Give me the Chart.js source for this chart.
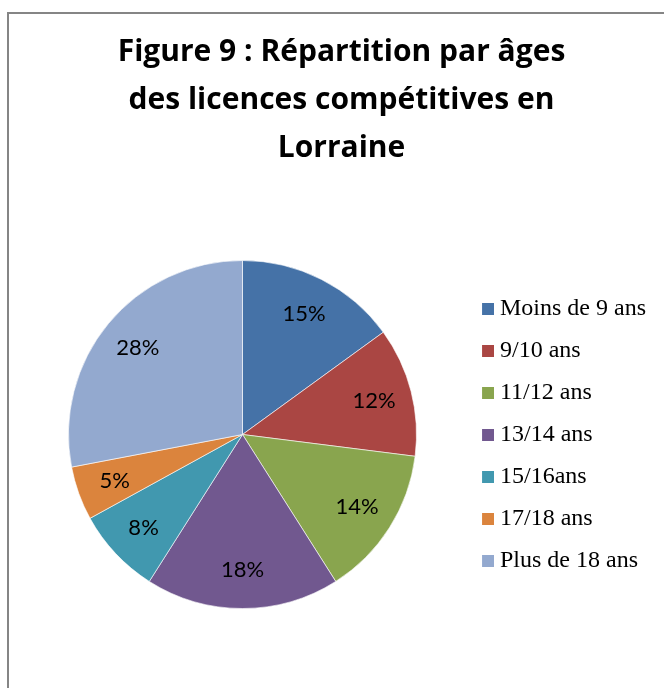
<!DOCTYPE html>
<html lang="fr">
<head>
<meta charset="utf-8">
<title>Figure 9</title>
<script src="https://cdn.jsdelivr.net/npm/chart.js@4/dist/chart.umd.min.js"></script>
<style>
  html, body { margin: 0; padding: 0; background: #fff; }
  #wrap { position: relative; width: 664px; height: 688px; overflow: hidden; }
  #frame {
    position: absolute; left: 7px; top: 12px; width: 800px; height: 800px;
    border-left: 2px solid #858585; border-top: 2px solid #858585;
  }
  #pie { position: absolute; left: 0; top: 0; }
</style>
</head>
<body>
<div id="wrap">
  <div id="frame"></div>
  <canvas id="pie" width="664" height="688"></canvas>
</div>
<script>
  /* ── données ── */
  const TITLE_LINES = ['Figure 9 : Répartition par âges', 'des licences compétitives en', 'Lorraine'];
  const AGE_LABELS  = ['Moins de 9 ans', '9/10 ans', '11/12 ans', '13/14 ans', '15/16ans', '17/18 ans', 'Plus de 18 ans'];
  const PCT_VALUES  = [15, 12, 14, 18, 8, 5, 28];
  const SLICE_COLORS = ['#4572A7', '#AA4643', '#89A54E', '#71588F', '#4198AF', '#DB843D', '#93A9CF'];

  /* petit carré de légende collé au texte (Chart.js laisse fontSize/2 d'écart) */
  function squareIcon(color) {
    const c = document.createElement('canvas');
    c.width = 24; c.height = 12;
    const g = c.getContext('2d');
    g.fillStyle = color;
    g.fillRect(12, 0, 12, 12);
    return c;
  }
  const LEGEND_ICONS = SLICE_COLORS.map(squareIcon);

  /* étiquettes % dans les parts */
  const pctLabels = {
    id: 'pctLabels',
    afterDatasetsDraw(chart) {
      const ctx = chart.ctx;
      const meta = chart.getDatasetMeta(0);
      ctx.save();
      ctx.font = '22px Lato';
      ctx.fillStyle = '#000';
      ctx.textAlign = 'center';
      ctx.textBaseline = 'middle';
      meta.data.forEach((arc, i) => {
        const p = arc.getProps(['x', 'y', 'startAngle', 'endAngle', 'outerRadius'], true);
        const mid = (p.startAngle + p.endAngle) / 2;
        const r = p.outerRadius * 0.78;
        ctx.fillText(PCT_VALUES[i] + '%', p.x + Math.cos(mid) * r, p.y + Math.sin(mid) * r);
      });
      ctx.restore();
    }
  };

  function draw() {
    const baseLabels = Chart.overrides.pie.plugins.legend.labels.generateLabels;
    new Chart(document.getElementById('pie'), {
      type: 'pie',
      data: {
        labels: AGE_LABELS,
        datasets: [{
          data: PCT_VALUES,
          backgroundColor: SLICE_COLORS,
          borderColor: 'rgba(255,255,255,0.6)',
          borderWidth: 1,
        }],
      },
      options: {
        responsive: false,
        animation: false,
        layout: { padding: { left: 27, right: 8, top: 0, bottom: 79 } },
        plugins: {
          tooltip: { enabled: false },
          title: {
            display: true,
            text: TITLE_LINES,
            color: '#000',
            font: { family: 'Open Sans', size: 30, weight: 'bold', lineHeight: 1.6 },
            padding: { top: 28, bottom: 88 },
          },
          legend: {
            position: 'right',
            fullSize: false,
            labels: {
              color: '#000',
              font: { family: 'Liberation Serif', size: 24 },
              boxWidth: 12,
              boxHeight: 12,
              padding: 18,
              usePointStyle: true,
              generateLabels: chart => baseLabels(chart).map((item, i) => ({ ...item, pointStyle: LEGEND_ICONS[i] })),
            },
          },
        },
      },
      plugins: [pctLabels],
    });
  }

  // les polices doivent être chargées avant de dessiner sur le canvas
  Promise.all([
    document.fonts.load('22px Lato'),
    document.fonts.load('bold 30px "Open Sans"'),
    document.fonts.load('24px "Liberation Serif"'),
  ]).then(draw, draw);
</script>
</body>
</html>
